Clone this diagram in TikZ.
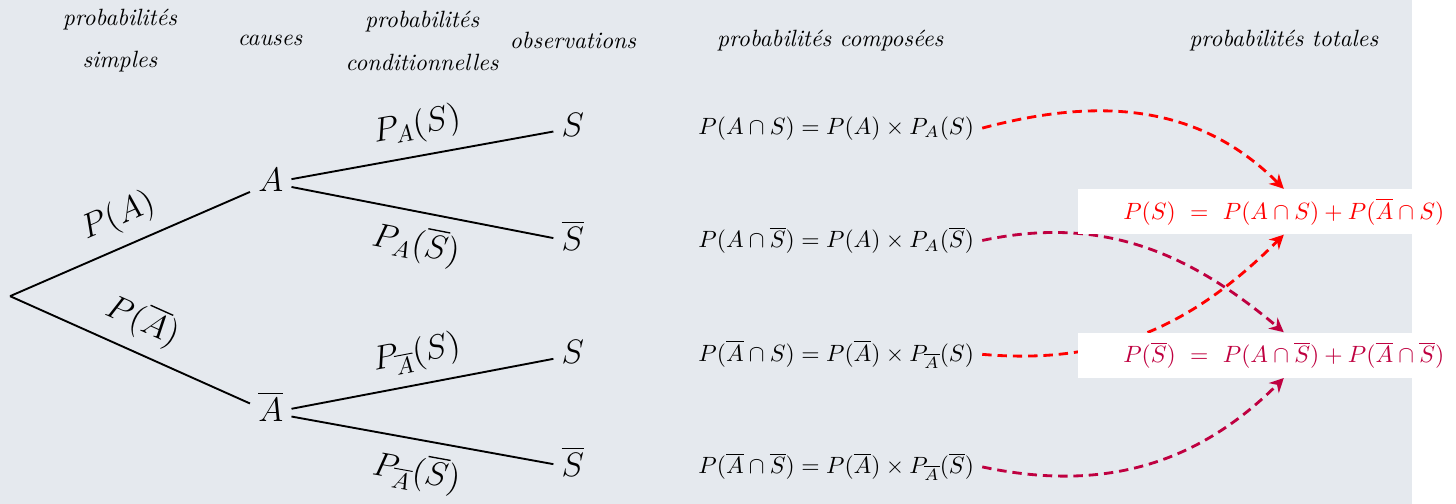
\documentclass[tikz,border=0pt]{standalone}
\usepackage{amsmath}
\usepackage{amssymb}
\usetikzlibrary{arrows.meta,positioning,calc}
\pgfdeclarelayer{back}
\pgfsetlayers{back,main}
\definecolor{fond}{RGB}{229,233,238}

\begin{document}
\begin{tikzpicture}[branch/.style={thick},
  head/.style={font=\itshape, align=center},
  event/.style={font=\Large, text height=2ex, text depth=0.3ex},
  prob/.style={font=\Large, sloped, midway, inner sep=5pt},
  formula/.style={anchor=base west},
  total/.style={fill=white, inner xsep=0.67cm, minimum height=0.67cm},
  arrow/.style={-{Stealth[length=6pt,width=6pt]}, very thick, dash pattern=on 4pt off 2.5pt}]
\begin{pgfonlayer}{back}
\fill[fond] (0,0) rectangle (21.07,7.52);
\end{pgfonlayer}
\useasboundingbox (0,0) rectangle (21.73,7.52);

% titres des colonnes
\node[head] (hsimp) at (1.79,6.91) {probabilités\\[6pt]simples};
\node[head] (hcaus) at (4.03,6.91) {causes};
\node[head] (hcond) at (6.30,6.91) {probabilités\\[6pt]conditionnelles};
\node[head] (hobs) at (8.55,6.91) {observations};
\node[head] (hcomp) at (12.39,6.91) {probabilités composées};
\node[head] (htot) at (19.16,6.91) {probabilités totales};

% arbre
\coordinate (root) at (0.15,3.10);
\node[event] (A) at (4.04,4.79) {$A$};
\node[event] (nA) at (4.04,1.36) {$\overline{A}$};
\node[event] (AS) at (8.55,5.61) {$S$};
\node[event] (AnS) at (8.55,3.91) {$\overline{S}$};
\node[event] (nAS) at (8.55,2.22) {$S$};
\node[event] (nAnS) at (8.55,0.54) {$\overline{S}$};
\draw[branch] (root) -- node[prob, above] {$P(A)$} (A);
\draw[branch] (root) -- node[prob, above] {$P(\overline{A})$} (nA);
\draw[branch] (A) -- node[prob, above] {$P_A(S)$} (AS);
\draw[branch] (A) -- node[prob, below] {$P_A(\overline{S})$} (AnS);
\draw[branch] (nA) -- node[prob, above] {$P_{\overline{A}}(S)$} (nAS);
\draw[branch] (nA) -- node[prob, below] {$P_{\overline{A}}(\overline{S})$} (nAnS);

% probabilites composees
\node[formula] (fAS) at (10.30,5.52) {$P(A\cap S)=P(A)\times P_A(S)$};
\node[formula] (fAnS) at (10.30,3.82) {$P(A\cap\overline{S})=P(A)\times P_A(\overline{S})$};
\node[formula] (fnAS) at (10.30,2.13) {$P(\overline{A}\cap S)=P(\overline{A})\times P_{\overline{A}}(S)$};
\node[formula] (fnAnS) at (10.30,0.45) {$P(\overline{A}\cap\overline{S})=P(\overline{A})\times P_{\overline{A}}(\overline{S})$};

% probabilites totales
\node[total, text=red] (tS) at (19.16,4.36) {$P(S)\ =\ P(A\cap S)+P(\overline{A}\cap S)$};
\node[total, text=purple] (tnS) at (19.16,2.22) {$P(\overline{S})\ =\ P(A\cap\overline{S})+P(\overline{A}\cap\overline{S})$};

\begin{pgfonlayer}{back}
\draw[arrow, red] (fAS.east) to[out=15, in=135] (tS.north);
\draw[arrow, purple] (fAnS.east) to[out=12, in=140] (tnS.north);
\draw[arrow, red] (fnAS.east) to[out=-5, in=-135] (tS.south);
\draw[arrow, purple] (fnAnS.east) to[out=-12, in=-135] (tnS.south);
\end{pgfonlayer}
\end{tikzpicture}
\end{document}
